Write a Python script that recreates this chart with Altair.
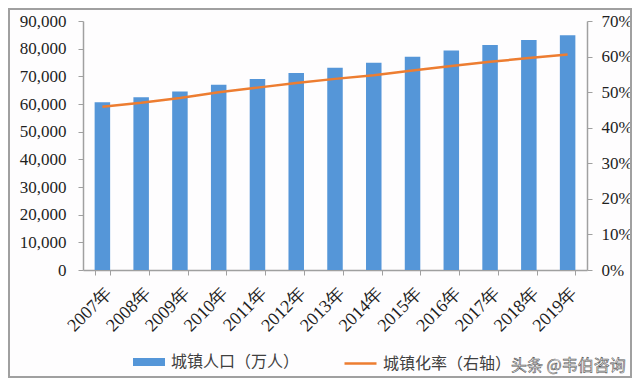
import altair as alt
import pandas as pd

years = ["2007年", "2008年", "2009年", "2010年", "2011年", "2012年", "2013年",
         "2014年", "2015年", "2016年", "2017年", "2018年", "2019年"]
urban_pop = [60633, 62403, 64512, 66978, 69079, 71182, 73111,
             74916, 77116, 79298, 81347, 83137, 84843]
urban_rate = [45.89, 46.99, 48.34, 49.95, 51.27, 52.57, 53.73,
              54.77, 56.10, 57.35, 58.52, 59.58, 60.60]
left_ticks = [0, 10000, 20000, 30000, 40000, 50000, 60000, 70000, 80000, 90000]
right_ticks = [0, 0.1, 0.2, 0.3, 0.4, 0.5, 0.6, 0.7]
bar_name = "城镇人口（万人）"
line_name = "城镇化率（右轴）"
watermark = "头条 @韦伯咨询"

df = pd.DataFrame({"year": years, "pop": urban_pop,
                   "rate": [r / 100 for r in urban_rate],
                   "bs": [bar_name] * len(years),
                   "ls": [line_name] * len(years)})

SERIF = "Liberation Serif"
CJK = "Noto Sans CJK SC"
AXIS_GREY = "#a0a0a0"
LABEL = "#1f1f1f"

x_enc = alt.X("year:N", sort=years, title=None,
              scale=alt.Scale(paddingInner=0.6, paddingOuter=0.3),
              axis=alt.Axis(labelAngle=-45, tickBand="extent", labelFont=SERIF,
                            labelFontSize=18, labelColor=LABEL, domainColor=AXIS_GREY,
                            tickColor=AXIS_GREY, tickSize=5, labelPadding=9,
                            domainWidth=1.5, grid=False))

bars = alt.Chart(df).mark_bar().encode(
    x=x_enc,
    y=alt.Y("pop:Q", title=None, scale=alt.Scale(domain=[0, 90000], nice=False),
            axis=alt.Axis(values=left_ticks, format=",d", labelFont=SERIF,
                          labelFontSize=17, labelColor=LABEL, domainColor=AXIS_GREY,
                          tickColor=AXIS_GREY, tickSize=5, labelPadding=12,
                          domainWidth=1.5, grid=False)),
    color=alt.Color("bs:N", title=None,
                    scale=alt.Scale(domain=[bar_name], range=["#5596d8"]),
                    legend=alt.Legend(orient="none", legendX=50, legendY=325,
                                      symbolType="M-1,-0.25H1V0.25H-1Z",
                                      symbolSize=1024, symbolStrokeWidth=0,
                                      labelFont=CJK, labelFontSize=16,
                                      labelColor="#404040", labelOffset=6,
                                      labelLimit=300, padding=0)),
)

line = alt.Chart(df).mark_line(strokeWidth=2.5).encode(
    x=x_enc,
    y=alt.Y("rate:Q", title=None, scale=alt.Scale(domain=[0, 0.7], nice=False),
            axis=alt.Axis(orient="right", values=right_ticks, format=".0%",
                          labelFont=SERIF, labelFontSize=17, labelColor=LABEL,
                          domainColor=AXIS_GREY, tickColor=AXIS_GREY, tickSize=5,
                          labelPadding=9, domainWidth=1.5, grid=False)),
    stroke=alt.Stroke("ls:N", title=None,
                      scale=alt.Scale(domain=[line_name], range=["#ed7d31"]),
                      legend=alt.Legend(orient="none", legendX=260, legendY=325,
                                        symbolType="stroke", symbolSize=1024,
                                        symbolStrokeWidth=2.5,
                                        labelFont=CJK, labelFontSize=16,
                                        labelColor="#404040", labelOffset=5,
                                        labelLimit=300, padding=0)),
)

wm = alt.Chart(pd.DataFrame({"t": [watermark]})).mark_text(
    align="left", baseline="middle", font=CJK, fontSize=16,
    fill="#ffffff", stroke="#555555", strokeWidth=0.6
).encode(x=alt.value(428), y=alt.value(345), text="t:N")

border = alt.Chart(pd.DataFrame({"t": [0]})).mark_rect(
    fill=None, stroke="#a0a0a0", strokeWidth=2
).encode(x=alt.value(-74), x2=alt.value(548), y=alt.value(-12), y2=alt.value(356))

chart = alt.layer(bars, line, wm, border).resolve_scale(
    y="independent", color="independent", stroke="independent"
).resolve_legend(color="independent", stroke="independent").properties(
    width=504, height=249,
    padding={"left": 75, "top": 13, "right": 45, "bottom": 108},
    autosize=alt.AutoSizeParams(type="none"),
    background="#fefdfe",
).configure_view(stroke=None)

chart.save("out.html", embed_options={"renderer": "svg", "actions": False})
